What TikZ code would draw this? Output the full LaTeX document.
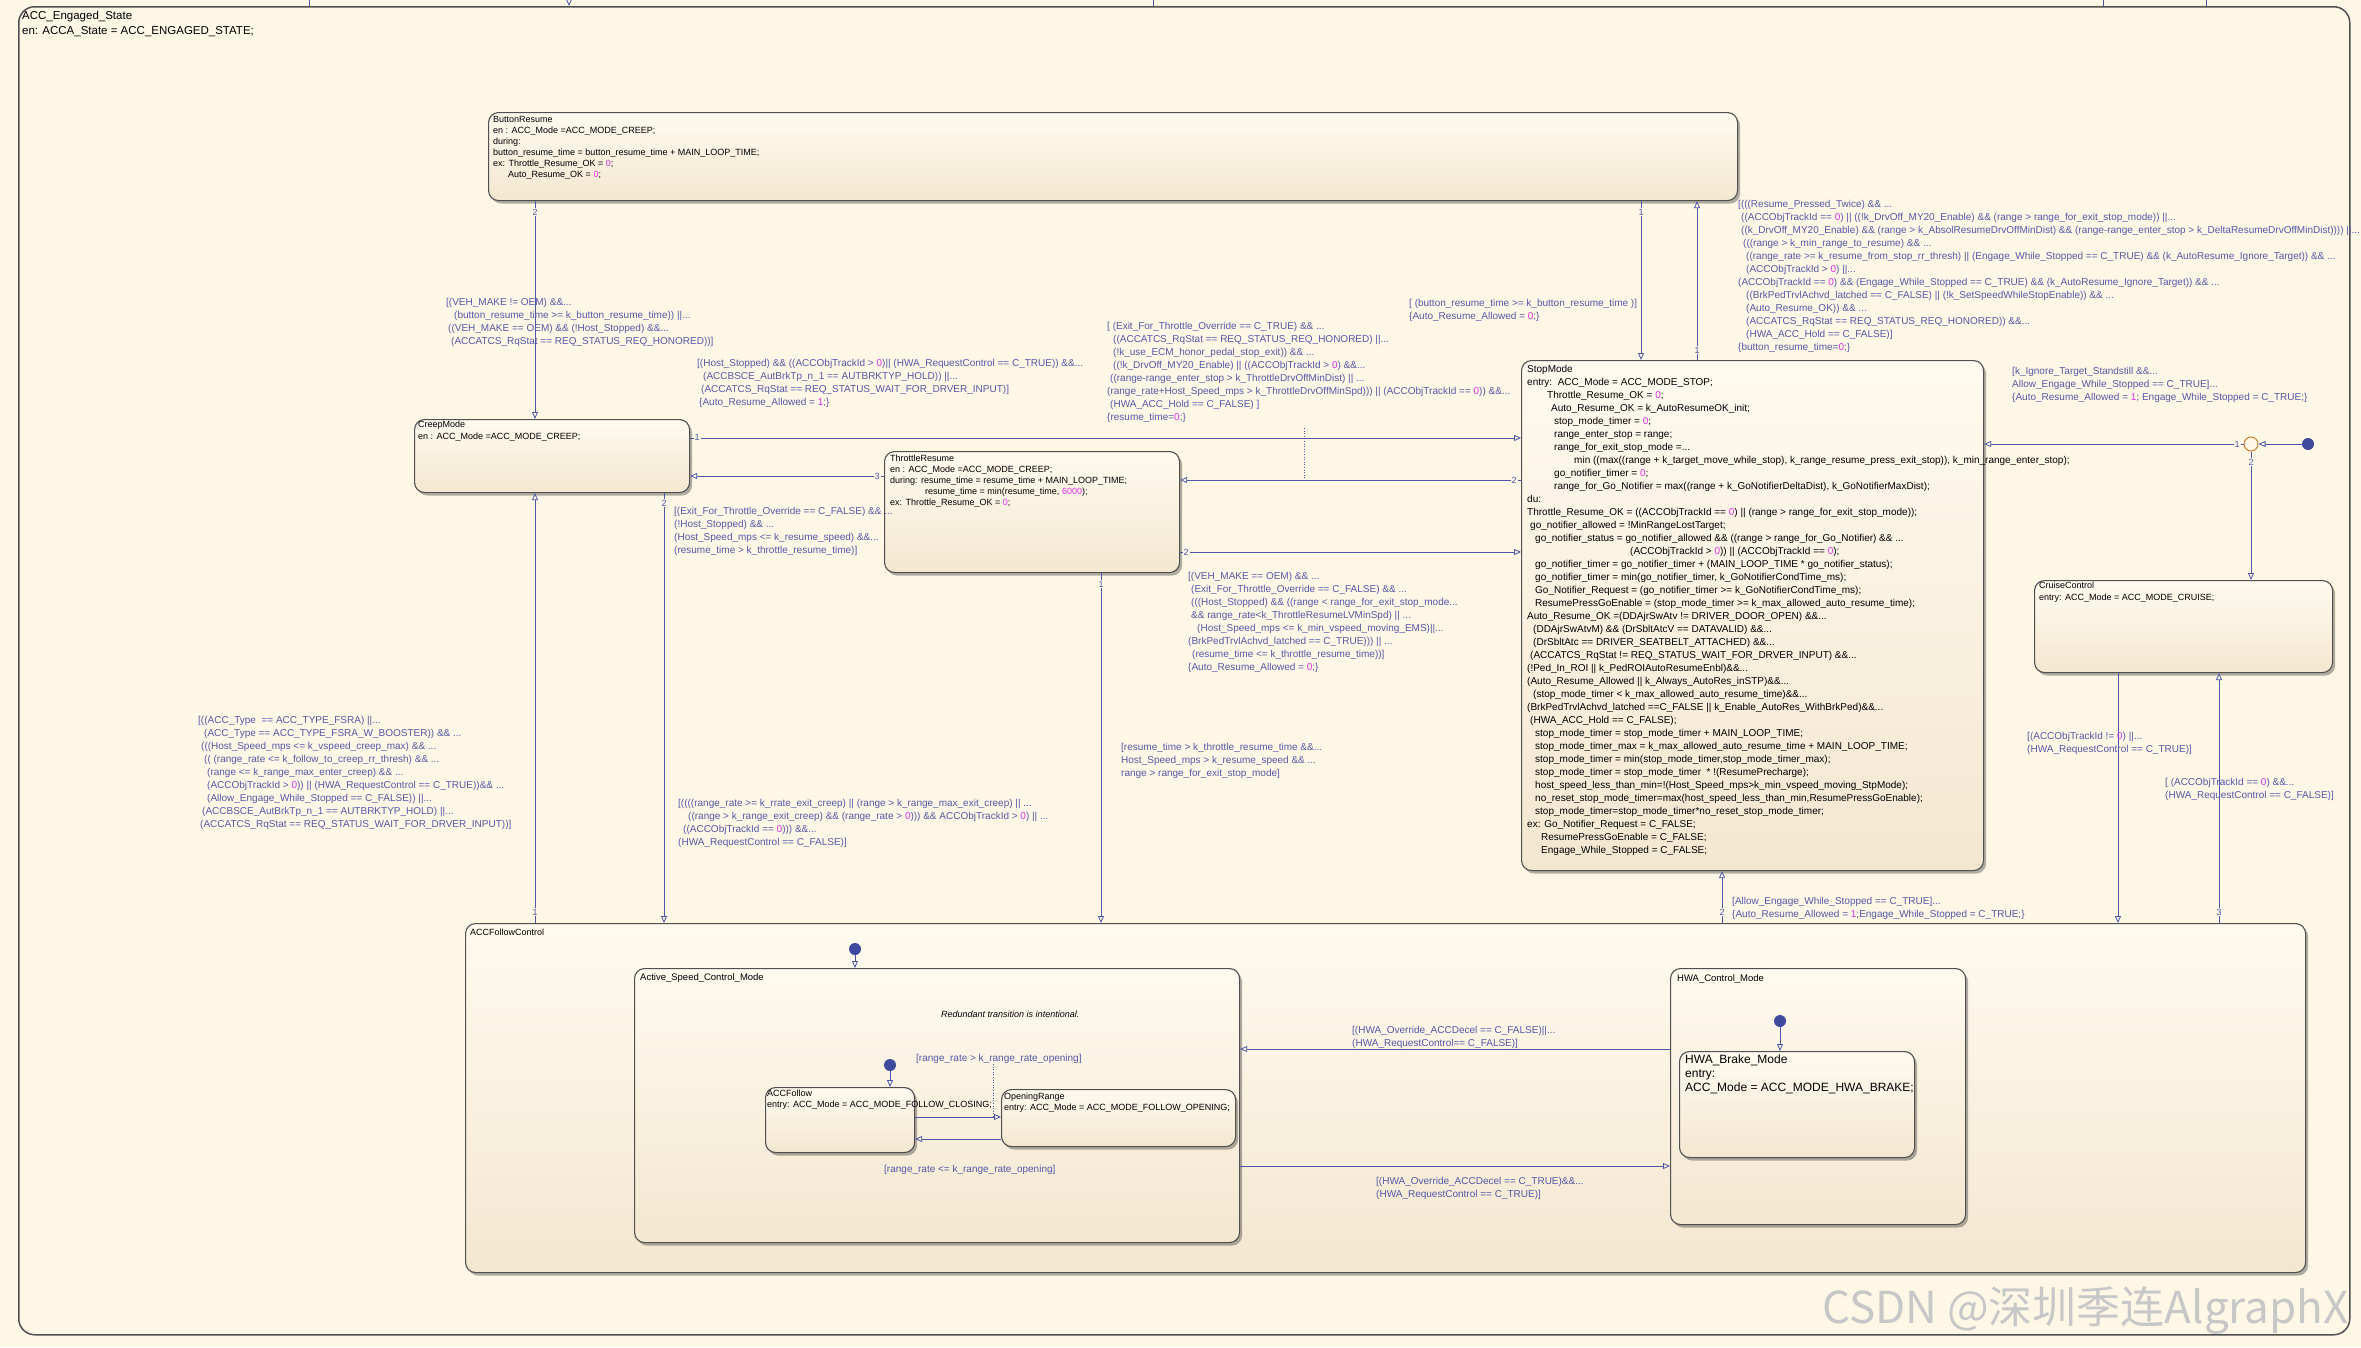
\documentclass[tikz,border=0pt]{standalone}
\usepackage{fontspec}
\setmainfont{Liberation Sans}
\newfontfamily\cjkfont{Noto Sans CJK SC}
\usetikzlibrary{arrows.meta,shadows,calc}
\definecolor{bgc}{HTML}{FEF7E6}
\definecolor{sttop}{HTML}{FFFAEF}
\definecolor{stbot}{HTML}{F3E7D0}
\definecolor{bord}{HTML}{505050}
\definecolor{trc}{HTML}{4C57A8}
\definecolor{lblc}{HTML}{5458A8}
\definecolor{mag}{HTML}{E030E0}
\definecolor{jnc}{HTML}{D07A30}
\definecolor{dotc}{HTML}{3E4A9E}
\newcommand{\mg}[1]{\textcolor{mag}{#1}}
\newcommand{\ind}[1]{\hspace*{#1pt}}
\begin{document}
\begin{tikzpicture}[x=1pt,y=-1pt,
  stbox/.style={draw=bord, line width=1.1pt, rounded corners=10pt, top color=sttop, bottom color=stbot, inner sep=0pt, anchor=north west, drop shadow={shadow xshift=2.5pt, shadow yshift=-3pt, opacity=0.3, fill=black}},
  outerst/.style={draw=bord, line width=1.5pt, rounded corners=16pt, fill=bgc, inner sep=0pt, anchor=north west},
  txt/.style={anchor=north west, inner sep=0pt, align=left, text=black, execute at begin node=\strut},
  one/.style={anchor=base west, inner sep=0pt, text=black},
  lbl/.style={anchor=north west, inner sep=0pt, align=left, text=lblc, font=\fontsize{10}{13}\selectfont, execute at begin node=\strut},
  lblone/.style={anchor=base west, inner sep=0pt, text=lblc, font=\fontsize{10}{13}\selectfont},
  num/.style={text=trc, font=\fontsize{9}{10}\selectfont, inner sep=1pt, fill=bgc},
  tr/.style={draw=trc, line width=0.9pt, -{Triangle[open, length=7pt, width=6pt, line width=0.8pt]}},
  trl/.style={draw=trc, line width=0.9pt},
  dots/.style={draw=trc, line width=0.6pt, dotted},
  dotn/.style={circle, fill=dotc, minimum size=12pt, inner sep=0pt},
]
\fill[bgc] (0,0) rectangle (2361,1347);
\useasboundingbox (0,0) rectangle (2361,1347);

% ---------- states ----------
\node[outerst, minimum width=2331pt, minimum height=1328pt] (outer) at (18,6) {};
\node[stbox, minimum width=1249pt, minimum height=88pt] (button) at (488,112) {};
\node[stbox, minimum width=275pt, minimum height=73pt] (creep) at (414,419) {};
\node[stbox, minimum width=295pt, minimum height=121pt] (throttle) at (884,451) {};
\node[stbox, minimum width=462pt, minimum height=510pt] (stop) at (1521,360) {};
\node[stbox, minimum width=298pt, minimum height=92pt] (cruise) at (2034,580) {};
\node[stbox, minimum width=1840pt, minimum height=349pt] (follow) at (465,923) {};
\node[stbox, minimum width=605pt, minimum height=274pt] (ascm) at (634,968) {};
\node[stbox, minimum width=295pt, minimum height=256pt] (hwacm) at (1670,968) {};
\node[stbox, minimum width=235pt, minimum height=106pt] (hwab) at (1679,1051) {};
\node[stbox, minimum width=149pt, minimum height=65pt] (accf) at (765,1087) {};
\node[stbox, minimum width=234pt, minimum height=57pt] (openr) at (1001,1089) {};

% ---------- stubs at top ----------
\coordinate (s1) at (309,0);
\coordinate (s2) at (569,0);
\coordinate (s3) at (1153,0);
\coordinate (s4) at (2103,0);
\coordinate (s5) at (2206,0);
\draw[trl] (s1) -- (s1 |- outer.north);
\draw[tr] (s2) -- (s2 |- outer.north);
\draw[trl] (s3) -- (s3 |- outer.north);
\draw[trl] (s4) -- (s4 |- outer.north);
\draw[trl] (s5) -- (s5 |- outer.north);

% ---------- transitions ----------
\draw[tr] (button.south -| 1641,0) -- (stop.north -| 1641,0);
\draw[tr] (stop.north -| 1697,0) -- (button.south -| 1697,0);
\draw[tr] (button.south -| 535,0) -- (creep.north -| 535,0);
\draw[tr] (creep.east |- 0,438) -- (stop.west |- 0,438);
\draw[tr] (stop.west |- 0,480) -- (throttle.east |- 0,480);
\draw[tr] (throttle.west |- 0,476) -- (creep.east |- 0,476);
\draw[tr] (throttle.east |- 0,552) -- (stop.west |- 0,552);
\draw[tr] (throttle.south -| 1101,0) -- (follow.north -| 1101,0);
\draw[tr] (creep.south -| 664,0) -- (follow.north -| 664,0);
\draw[tr] (follow.north -| 535,0) -- (creep.south -| 535,0);
\draw[tr] (follow.north -| 1722,0) -- (stop.south -| 1722,0);
\draw[tr] (cruise.south -| 2118,0) -- (follow.north -| 2118,0);
\draw[tr] (follow.north -| 2219,0) -- (cruise.south -| 2219,0);
\draw[tr] (hwacm.west |- 0,1049) -- (ascm.east |- 0,1049);
\draw[tr] (ascm.east |- 0,1166) -- (hwacm.west |- 0,1166);
\draw[tr] (accf.east |- 0,1117) -- (openr.west |- 0,1117);
\draw[tr] (openr.west |- 0,1139) -- (accf.east |- 0,1139);

% junction and default transitions
\node[circle, draw=jnc, line width=1pt, fill=bgc, minimum size=14pt, inner sep=0pt] (junc) at (2251,444) {};
\node[dotn] (dot0) at (2308,444) {};
\draw[tr] (dot0) -- (junc);
\draw[tr] (junc) -- (stop.east |- junc);
\draw[tr] (junc) -- (cruise.north -| junc);
\node[dotn] (dot1) at (855,949) {};
\draw[tr] (dot1) -- (ascm.north -| dot1);
\node[dotn] (dot2) at (890,1065) {};
\draw[tr] (dot2) -- (accf.north -| dot2);
\node[dotn] (dot3) at (1780,1021) {};
\draw[tr] (dot3) -- (hwab.north -| dot3);

% transition order numbers
\node[num] (n1) at (535,212) {2};
\node[num] (n2) at (1641,212) {1};
\node[num] (n3) at (1697,350) {1};
\node[num] (n4) at (697,437) {1};
\node[num] (n5) at (877,476) {3};
\node[num] (n6) at (1514,480) {2};
\node[num] (n7) at (1186,552) {2};
\node[num] (n8) at (664,503) {2};
\node[num] (n9) at (1101,584) {1};
\node[num] (n10) at (535,912) {1};
\node[num] (n11) at (1722,912) {2};
\node[num] (n12) at (2219,912) {3};
\node[num] (n13) at (2237,444) {1};
\node[num] (n14) at (2251,462) {2};

% ---------- state texts ----------
\node[txt, font=\fontsize{11.5}{15}\selectfont] (outerT) at (22,10.5) {ACC\_Engaged\_State\\en: ACCA\_State = ACC\_ENGAGED\_STATE;};

\node[txt, font=\fontsize{9}{11}\selectfont] (buttonT) at (493,116.3) {ButtonResume\\
en : ACC\_Mode =ACC\_MODE\_CREEP;\\
during:\\
button\_resume\_time = button\_resume\_time + MAIN\_LOOP\_TIME;\\
ex: Throttle\_Resume\_OK = \mg{0};\\
\ind{15}Auto\_Resume\_OK = \mg{0};};

\node[txt, font=\fontsize{9}{12}\selectfont] (creepT) at (418,420.6) {CreepMode\\en : ACC\_Mode =ACC\_MODE\_CREEP;};

\node[txt, font=\fontsize{9}{11}\selectfont] (throttleT) at (890,454.3) {ThrottleResume\\
en : ACC\_Mode =ACC\_MODE\_CREEP;\\
during: resume\_time = resume\_time + MAIN\_LOOP\_TIME;\\
\ind{35}resume\_time = min(resume\_time, \mg{6000});\\
ex: Throttle\_Resume\_OK = \mg{0};};

\node[txt, font=\fontsize{9}{12}\selectfont] (cruiseT) at (2039,581.6) {CruiseControl\\entry: ACC\_Mode = ACC\_MODE\_CRUISE;};

\node[txt, font=\fontsize{10}{13}\selectfont] (stopT) at (1527,364.9) {StopMode\\
entry:\ \ ACC\_Mode = ACC\_MODE\_STOP;\\
\ind{20}Throttle\_Resume\_OK = \mg{0};\\
\ind{24}Auto\_Resume\_OK = k\_AutoResumeOK\_init;\\
\ind{27}stop\_mode\_timer = \mg{0};\\
\ind{27}range\_enter\_stop = range;\\
\ind{27}range\_for\_exit\_stop\_mode =...\\
\ind{47}min ((max((range + k\_target\_move\_while\_stop), k\_range\_resume\_press\_exit\_stop)), k\_min\_range\_enter\_stop);\\
\ind{27}go\_notifier\_timer = \mg{0};\\
\ind{27}range\_for\_Go\_Notifier = max((range + k\_GoNotifierDeltaDist), k\_GoNotifierMaxDist);\\
du:\\
Throttle\_Resume\_OK = ((ACCObjTrackId == \mg{0}) || (range > range\_for\_exit\_stop\_mode));\\
\ind{3}go\_notifier\_allowed = !MinRangeLostTarget;\\
\ind{8}go\_notifier\_status = go\_notifier\_allowed \&\& ((range > range\_for\_Go\_Notifier) \&\& ...\\
\ind{103}(ACCObjTrackId > \mg{0})) || (ACCObjTrackId == \mg{0});\\
\ind{8}go\_notifier\_timer = go\_notifier\_timer + (MAIN\_LOOP\_TIME * go\_notifier\_status);\\
\ind{8}go\_notifier\_timer = min(go\_notifier\_timer, k\_GoNotifierCondTime\_ms);\\
\ind{8}Go\_Notifier\_Request = (go\_notifier\_timer >= k\_GoNotifierCondTime\_ms);\\
\ind{8}ResumePressGoEnable = (stop\_mode\_timer >= k\_max\_allowed\_auto\_resume\_time);\\
Auto\_Resume\_OK =(DDAjrSwAtv != DRIVER\_DOOR\_OPEN) \&\&...\\
\ind{6}(DDAjrSwAtvM) \&\& (DrSbltAtcV == DATAVALID) \&\&...\\
\ind{6}(DrSbltAtc == DRIVER\_SEATBELT\_ATTACHED) \&\&...\\
\ind{3}(ACCATCS\_RqStat != REQ\_STATUS\_WAIT\_FOR\_DRVER\_INPUT) \&\&...\\
(!Ped\_In\_ROI || k\_PedROIAutoResumeEnbl)\&\&...\\
(Auto\_Resume\_Allowed || k\_Always\_AutoRes\_inSTP)\&\&...\\
\ind{6}(stop\_mode\_timer < k\_max\_allowed\_auto\_resume\_time)\&\&...\\
(BrkPedTrvlAchvd\_latched ==C\_FALSE || k\_Enable\_AutoRes\_WithBrkPed)\&\&...\\
\ind{3}(HWA\_ACC\_Hold == C\_FALSE);\\
\ind{8}stop\_mode\_timer = stop\_mode\_timer + MAIN\_LOOP\_TIME;\\
\ind{8}stop\_mode\_timer\_max = k\_max\_allowed\_auto\_resume\_time + MAIN\_LOOP\_TIME;\\
\ind{8}stop\_mode\_timer = min(stop\_mode\_timer,stop\_mode\_timer\_max);\\
\ind{8}stop\_mode\_timer = stop\_mode\_timer\ \ * !(ResumePrecharge);\\
\ind{8}host\_speed\_less\_than\_min=!(Host\_Speed\_mps>k\_min\_vspeed\_moving\_StpMode);\\
\ind{8}no\_reset\_stop\_mode\_timer=max(host\_speed\_less\_than\_min,ResumePressGoEnable);\\
\ind{8}stop\_mode\_timer=stop\_mode\_timer*no\_reset\_stop\_mode\_timer;\\
ex: Go\_Notifier\_Request = C\_FALSE;\\
\ind{14}ResumePressGoEnable = C\_FALSE;\\
\ind{14}Engage\_While\_Stopped = C\_FALSE;};

\node[one, font=\fontsize{9}{11}\selectfont] (followT) at (470,935) {ACCFollowControl};
\node[one, font=\fontsize{9.5}{11}\selectfont] (ascmT) at (640,980) {Active\_Speed\_Control\_Mode};
\node[one, font=\fontsize{9.5}{11}\selectfont] (hwacmT) at (1677,981) {HWA\_Control\_Mode};
\node[txt, font=\fontsize{9}{11}\selectfont] (accfT) at (767,1089.3) {ACCFollow\\entry: ACC\_Mode = ACC\_MODE\_FOLLOW\_CLOSING;};
\node[txt, font=\fontsize{9}{11}\selectfont] (openrT) at (1004,1092.3) {OpeningRange\\entry: ACC\_Mode = ACC\_MODE\_FOLLOW\_OPENING;};
\node[txt, font=\fontsize{12}{14}\selectfont] (hwabT) at (1685,1054.2) {HWA\_Brake\_Mode\\entry:\\ACC\_Mode = ACC\_MODE\_HWA\_BRAKE;};
\node[one, font=\fontsize{9}{11}\selectfont\itshape] (noteT) at (941,1017) {Redundant transition is intentional.};

% ---------- transition labels ----------
\node[lbl] (lVeh) at (446,297.9) {[(VEH\_MAKE != OEM) \&\&...\\
\ind{8}(button\_resume\_time >= k\_button\_resume\_time)) ||...\\
\ind{2}((VEH\_MAKE == OEM) \&\& (!Host\_Stopped) \&\&...\\
\ind{5}(ACCATCS\_RqStat == REQ\_STATUS\_REQ\_HONORED))]};

\node[lbl] (lHost) at (697,358.9) {[(Host\_Stopped) \&\& ((ACCObjTrackId > \mg{0})|| (HWA\_RequestControl == C\_TRUE)) \&\&...\\
\ind{6}(ACCBSCE\_AutBrkTp\_n\_1 == AUTBRKTYP\_HOLD)) ||...\\
\ind{4}(ACCATCS\_RqStat == REQ\_STATUS\_WAIT\_FOR\_DRVER\_INPUT)]\\
\ind{2}\{Auto\_Resume\_Allowed = \mg{1};\}};

\node[lbl] (lExitT) at (1107,321.9) {[ (Exit\_For\_Throttle\_Override == C\_TRUE) \&\& ...\\
\ind{6}((ACCATCS\_RqStat == REQ\_STATUS\_REQ\_HONORED) ||...\\
\ind{6}(!k\_use\_ECM\_honor\_pedal\_stop\_exit)) \&\& ...\\
\ind{6}((!k\_DrvOff\_MY20\_Enable) || ((ACCObjTrackId > \mg{0}) \&\&...\\
\ind{3}((range-range\_enter\_stop > k\_ThrottleDrvOffMinDist) || ...\\
(range\_rate+Host\_Speed\_mps > k\_ThrottleDrvOffMinSpd))) || (ACCObjTrackId == \mg{0})) \&\&...\\
\ind{3}(HWA\_ACC\_Hold == C\_FALSE) ]\\
\{resume\_time=\mg{0};\}};

\node[lbl] (lButton) at (1409,298.9) {[ (button\_resume\_time >= k\_button\_resume\_time )]\\
\{Auto\_Resume\_Allowed = \mg{0};\}};

\node[lbl] (lTop) at (1738,199.9) {[(((Resume\_Pressed\_Twice) \&\& ...\\
\ind{3}((ACCObjTrackId == \mg{0}) || ((!k\_DrvOff\_MY20\_Enable) \&\& (range > range\_for\_exit\_stop\_mode)) ||...\\
\ind{3}((k\_DrvOff\_MY20\_Enable) \&\& (range > k\_AbsolResumeDrvOffMinDist) \&\& (range-range\_enter\_stop > k\_DeltaResumeDrvOffMinDist)))) ||...\\
\ind{5}(((range > k\_min\_range\_to\_resume) \&\& ...\\
\ind{8}((range\_rate >= k\_resume\_from\_stop\_rr\_thresh) || (Engage\_While\_Stopped == C\_TRUE) \&\& (k\_AutoResume\_Ignore\_Target)) \&\& ...\\
\ind{8}(ACCObjTrackId > \mg{0}) ||...\\
(ACCObjTrackId == \mg{0}) \&\& (Engage\_While\_Stopped == C\_TRUE) \&\& (k\_AutoResume\_Ignore\_Target)) \&\& ...\\
\ind{8}((BrkPedTrvlAchvd\_latched == C\_FALSE) || (!k\_SetSpeedWhileStopEnable)) \&\& ...\\
\ind{8}(Auto\_Resume\_OK)) \&\& ...\\
\ind{8}(ACCATCS\_RqStat == REQ\_STATUS\_REQ\_HONORED)) \&\&...\\
\ind{8}(HWA\_ACC\_Hold == C\_FALSE)]\\
\{button\_resume\_time=\mg{0};\}};

\node[lbl] (lIgnore) at (2012,366.9) {[k\_Ignore\_Target\_Standstill \&\&...\\
Allow\_Engage\_While\_Stopped == C\_TRUE]...\\
\{Auto\_Resume\_Allowed = \mg{1}; Engage\_While\_Stopped = C\_TRUE;\}};

\node[lbl] (lExitF) at (674,506.9) {[(Exit\_For\_Throttle\_Override == C\_FALSE) \&\& ...\\
(!Host\_Stopped) \&\& ...\\
(Host\_Speed\_mps <= k\_resume\_speed) \&\&...\\
(resume\_time > k\_throttle\_resume\_time)]};

\node[lbl] (lVehOem) at (1188,571.9) {[(VEH\_MAKE == OEM) \&\& ...\\
\ind{3}(Exit\_For\_Throttle\_Override == C\_FALSE) \&\& ...\\
\ind{3}(((Host\_Stopped) \&\& ((range < range\_for\_exit\_stop\_mode...\\
\ind{3}\&\& range\_rate<k\_ThrottleResumeLVMinSpd) || ...\\
\ind{9}(Host\_Speed\_mps <= k\_min\_vspeed\_moving\_EMS)||...\\
(BrkPedTrvlAchvd\_latched == C\_TRUE))) || ...\\
\ind{4}(resume\_time <= k\_throttle\_resume\_time))]\\
\{Auto\_Resume\_Allowed = \mg{0};\}};

\node[lbl] (lResume) at (1121,742.9) {[resume\_time > k\_throttle\_resume\_time \&\&...\\
Host\_Speed\_mps > k\_resume\_speed \&\& ...\\
range > range\_for\_exit\_stop\_mode]};

\node[lbl] (lAccType) at (198,715.9) {[((ACC\_Type\ \ == ACC\_TYPE\_FSRA) ||...\\
\ind{6}(ACC\_Type == ACC\_TYPE\_FSRA\_W\_BOOSTER)) \&\& ...\\
\ind{3}(((Host\_Speed\_mps <= k\_vspeed\_creep\_max) \&\& ...\\
\ind{6}(( (range\_rate <= k\_follow\_to\_creep\_rr\_thresh) \&\& ...\\
\ind{9}(range <= k\_range\_max\_enter\_creep) \&\& ...\\
\ind{9}(ACCObjTrackId > \mg{0})) || (HWA\_RequestControl == C\_TRUE))\&\& ...\\
\ind{9}(Allow\_Engage\_While\_Stopped == C\_FALSE)) ||...\\
\ind{4}(ACCBSCE\_AutBrkTp\_n\_1 == AUTBRKTYP\_HOLD) ||...\\
\ind{2}(ACCATCS\_RqStat == REQ\_STATUS\_WAIT\_FOR\_DRVER\_INPUT))]};

\node[lbl] (lRange) at (678,798.9) {[((((range\_rate >= k\_rrate\_exit\_creep) || (range > k\_range\_max\_exit\_creep) || ...\\
\ind{10}((range > k\_range\_exit\_creep) \&\& (range\_rate > \mg{0}))) \&\& ACCObjTrackId > \mg{0}) || ...\\
\ind{5}((ACCObjTrackId == \mg{0}))) \&\&...\\
(HWA\_RequestControl == C\_FALSE)]};

\node[lbl] (lNe) at (2027,731.9) {[(ACCObjTrackId != \mg{0}) ||...\\
(HWA\_RequestControl == C\_TRUE)]};

\node[lbl] (lEq) at (2165,777.9) {[ (ACCObjTrackId == \mg{0}) \&\&...\\
(HWA\_RequestControl == C\_FALSE)]};

\node[lbl] (lAllow) at (1732,896.9) {[Allow\_Engage\_While\_Stopped == C\_TRUE]...\\
\{Auto\_Resume\_Allowed = \mg{1};Engage\_While\_Stopped = C\_TRUE;\}};

\node[lbl] (lHwaF) at (1352,1025.9) {[(HWA\_Override\_ACCDecel == C\_FALSE)||...\\
(HWA\_RequestControl== C\_FALSE)]};

\node[lbl] (lHwaT) at (1376,1176.9) {[(HWA\_Override\_ACCDecel == C\_TRUE)\&\&...\\
(HWA\_RequestControl == C\_TRUE)]};

\node[lblone] (lRrGt) at (916,1061) {[range\_rate > k\_range\_rate\_opening]};
\node[lblone] (lRrLe) at (884,1172) {[range\_rate <= k\_range\_rate\_opening]};

% dotted label leaders
\coordinate (dA) at (1304,428);
\coordinate (dB) at (1304,480);
\draw[dots] (dA) -- (dB);
\coordinate (dC) at (993,1064);
\coordinate (dD) at (993,1117);
\draw[dots] (dC) -- (dD);

% watermark
\node[anchor=base west, inner sep=0pt, text=black!22, font=\cjkfont\fontsize{44}{50}\selectfont] (wm) at (1822,1323) {CSDN @深圳季连AlgraphX};
\end{tikzpicture}
\end{document}
